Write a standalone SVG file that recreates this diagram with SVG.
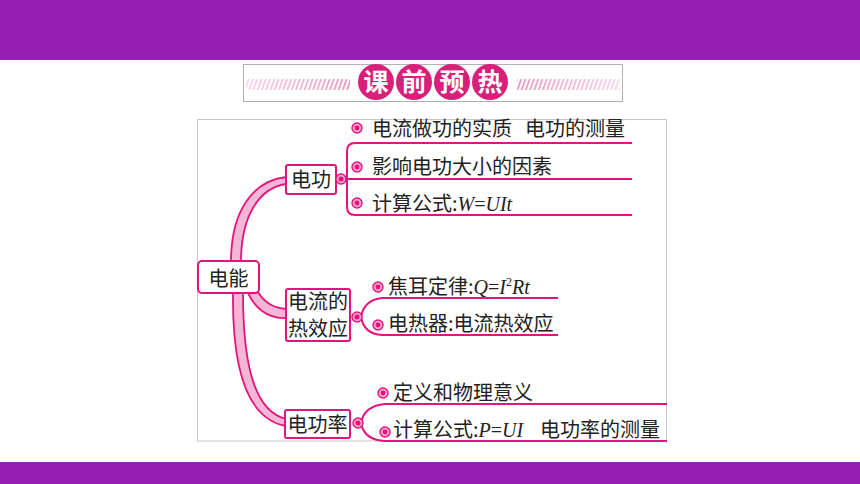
<svg xmlns="http://www.w3.org/2000/svg" width="860" height="484" viewBox="0 0 860 484">
<defs>
<pattern id="hatch" width="4" height="4" patternUnits="userSpaceOnUse" patternTransform="rotate(20)">
<rect width="1.6" height="4" fill="#e58bb7"/>
</pattern>
<linearGradient id="fadeL" x1="0" x2="1" y1="0" y2="0">
<stop offset="0" stop-color="#fff" stop-opacity="0.6"/>
<stop offset="1" stop-color="#fff" stop-opacity="0"/>
</linearGradient>
<linearGradient id="fadeR" x1="0" x2="1" y1="0" y2="0">
<stop offset="0" stop-color="#fff" stop-opacity="0"/>
<stop offset="1" stop-color="#fff" stop-opacity="0.6"/>
</linearGradient>
</defs>
<style>
.bar{fill:#951fb5}
.node{fill:#fff;stroke:#e2157f;stroke-width:2}
.nt{font-family:"Noto Sans CJK SC","Noto Sans",sans-serif;font-size:20px;fill:#222}
.it{font-family:"Noto Sans CJK SC","Noto Sans",sans-serif;font-size:20px;fill:#222}
.f{font-family:"Liberation Serif",serif;font-style:italic}
.fn{font-family:"Liberation Serif",serif;font-style:normal}
.line{fill:none;stroke:#e2157f;stroke-width:2}
.rib{fill:#f6b6d5;stroke:#e2157f;stroke-width:1.8}
.bo{fill:#f7a6cb;stroke:#e2157f;stroke-width:1.4}
.bi{fill:#e2157f}
.hc{fill:#d81f7a}
.ht{font-family:"Noto Sans CJK SC",sans-serif;font-size:25px;font-weight:bold;fill:#fff}
</style>
<rect width="860" height="484" fill="#fff"/>
<rect class="bar" x="0" y="0" width="860" height="60"/>
<rect class="bar" x="0" y="462" width="860" height="22"/>

<g id="header">
<rect x="243.5" y="64.5" width="379" height="37" fill="#fff" stroke="#b0b0b0" stroke-width="1"/>
<rect x="246" y="79" width="104" height="11" fill="url(#hatch)"/>
<rect x="246" y="79" width="104" height="11" fill="url(#fadeL)"/>
<rect x="517" y="79" width="103" height="11" fill="url(#hatch)"/>
<rect x="517" y="79" width="103" height="11" fill="url(#fadeR)"/>
<circle class="hc" cx="376" cy="82" r="18"/>
<circle class="hc" cx="414" cy="82" r="18"/>
<circle class="hc" cx="452" cy="82" r="18"/>
<circle class="hc" cx="490" cy="82" r="18"/>
<text class="ht" x="376" y="91" text-anchor="middle">课</text>
<text class="ht" x="414" y="91" text-anchor="middle">前</text>
<text class="ht" x="452" y="91" text-anchor="middle">预</text>
<text class="ht" x="490" y="91" text-anchor="middle">热</text>
</g>

<rect x="197.5" y="119.5" width="469" height="321.5" fill="#fff" stroke="#c8c8c8" stroke-width="1"/>

<g id="connectors">
<path class="rib" d="M231,262 C231,212 252,181 286,177 L286,184 C259,188 241,216 241,262 Z"/>
<path class="rib" d="M258,292 C264,302 272,308 286,309 L286,318 C266,319 254,306 248,293 Z"/>
<path class="rib" d="M233,293 C232,380 252,420 286,426 L286,419 C258,412 243,375 243,293 Z"/>
<path class="line" d="M340,179 L632,179"/>
<path class="line" d="M632,143 L355,143 Q347,143 347,151 L347,207 Q347,215 355,215 L632,215"/>
<path class="line" d="M558,298 L382,298 Q364,300 361,317 Q364,334 382,335 L558,335"/>
<path class="line" d="M667,404 L385,404 Q364,406 361,423 Q364,440 385,441 L667,441"/>
</g>

<g id="n-dianneng">
<rect class="node" x="198" y="261" width="61" height="32" rx="4"/>
<text class="nt" x="228.5" y="286" text-anchor="middle" font-size="24">电能</text>
</g>

<g id="n-diangong">
<rect class="node" x="286" y="165" width="50" height="29" rx="2"/>
<text class="nt" x="311" y="187" text-anchor="middle">电功</text>
<circle class="bo" cx="341" cy="179" r="5"/><circle class="bi" cx="341" cy="179" r="2.5"/>
</g>

<g id="n-rexiao">
<rect class="node" x="286" y="289" width="64" height="52" rx="2"/>
<text class="nt" x="318" y="309" text-anchor="middle" font-size="18">电流的</text>
<text class="nt" x="318" y="336" text-anchor="middle" font-size="18">热效应</text>
<circle class="bo" cx="357" cy="317" r="5"/><circle class="bi" cx="357" cy="317" r="2.5"/>
</g>

<g id="n-gonglv">
<rect class="node" x="285" y="410" width="65" height="28" rx="2"/>
<text class="nt" x="317.5" y="432" text-anchor="middle">电功率</text>
<circle class="bo" cx="358" cy="423" r="5"/><circle class="bi" cx="358" cy="423" r="2.5"/>
</g>

<g id="items-diangong">
<circle class="bo" cx="357" cy="128" r="5"/><circle class="bi" cx="357" cy="128" r="2.4"/>
<text class="it" x="372" y="136">电流做功的实质</text>
<text class="it" x="525" y="136">电功的测量</text>
<circle class="bo" cx="357" cy="167" r="5"/><circle class="bi" cx="357" cy="167" r="2.4"/>
<text class="it" x="372" y="174">影响电功大小的因素</text>
<circle class="bo" cx="357" cy="203" r="5"/><circle class="bi" cx="357" cy="203" r="2.4"/>
<text class="it" x="372" y="211">计算公式:<tspan class="f">W</tspan><tspan class="fn">=</tspan><tspan class="f">UIt</tspan></text>
</g>

<g id="items-rexiao">
<circle class="bo" cx="378" cy="287" r="5"/><circle class="bi" cx="378" cy="287" r="2.4"/>
<text class="it" x="388" y="294">焦耳定律:<tspan class="f">Q</tspan><tspan class="fn">=</tspan><tspan class="f">I</tspan><tspan class="fn" font-size="12" dy="-8">2</tspan><tspan class="f" dy="8">Rt</tspan></text>
<circle class="bo" cx="378" cy="325" r="5"/><circle class="bi" cx="378" cy="325" r="2.4"/>
<text class="it" x="388" y="331">电热器:电流热效应</text>
</g>

<g id="items-gonglv">
<circle class="bo" cx="383" cy="393" r="5"/><circle class="bi" cx="383" cy="393" r="2.4"/>
<text class="it" x="393" y="400">定义和物理意义</text>
<circle class="bo" cx="385" cy="432" r="5"/><circle class="bi" cx="385" cy="432" r="2.4"/>
<text class="it" x="393" y="437">计算公式:<tspan class="f">P</tspan><tspan class="fn">=</tspan><tspan class="f">UI</tspan></text>
<text class="it" x="540" y="437">电功率的测量</text>
</g>
</svg>
